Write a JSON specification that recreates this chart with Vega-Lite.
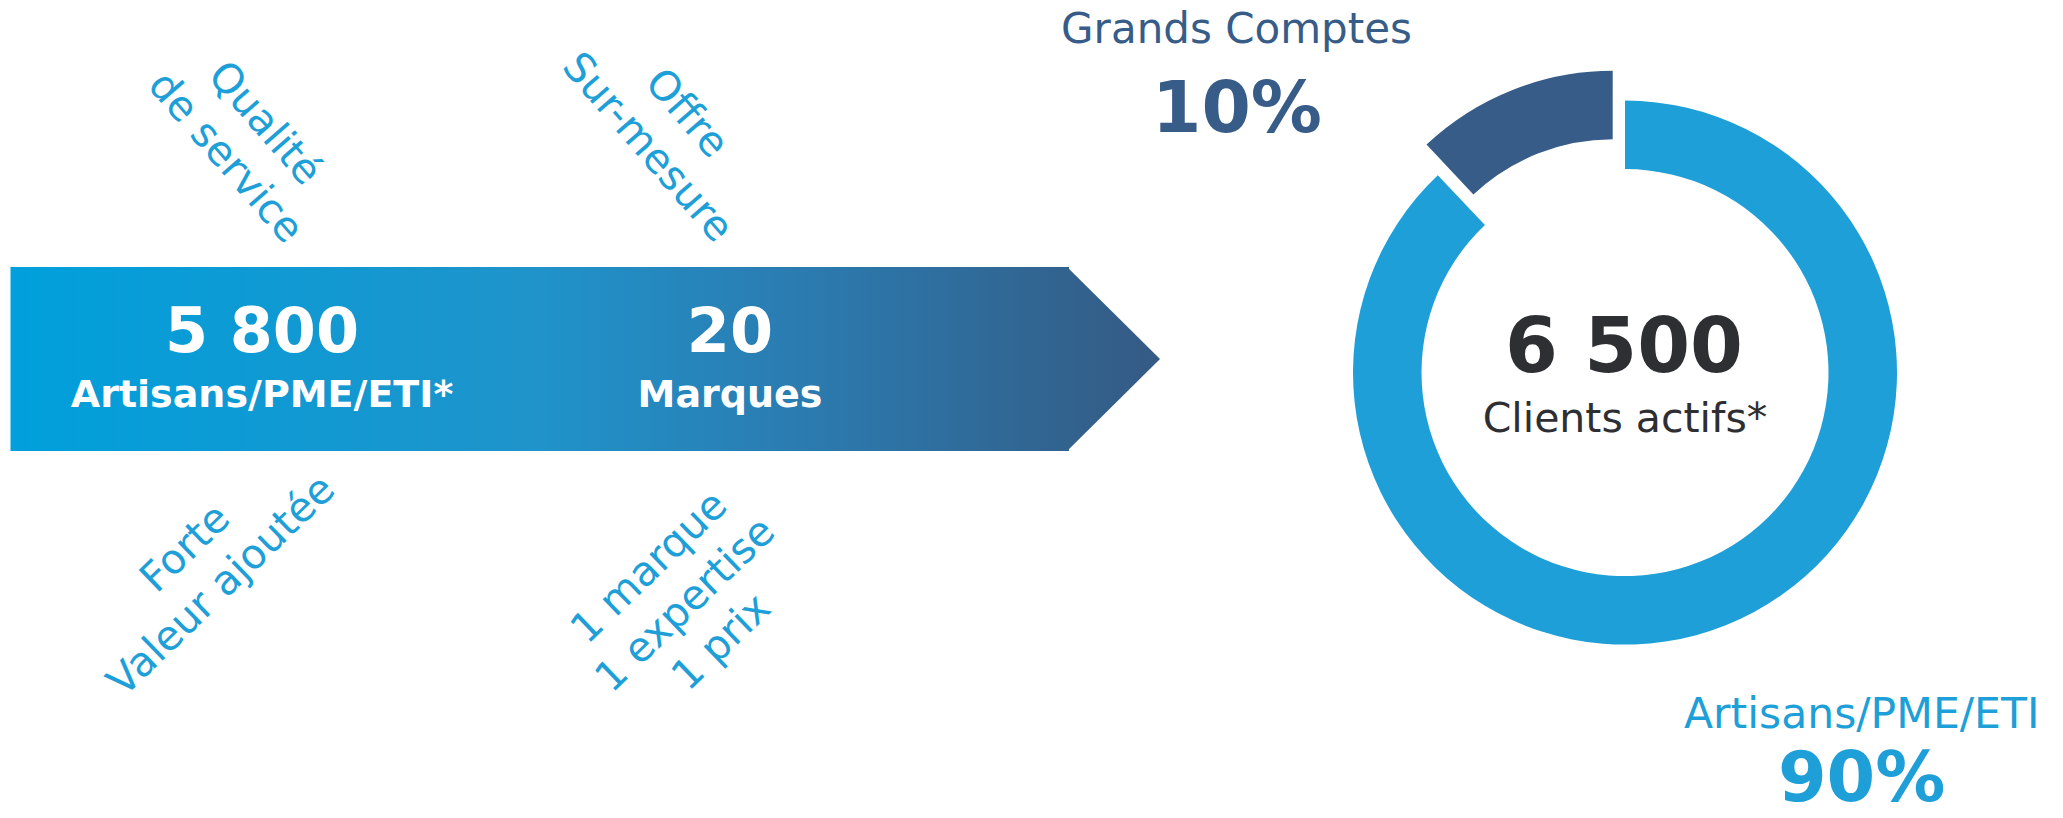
{
  "$schema": "https://vega.github.io/schema/vega-lite/v6.json",
  "width": 2063,
  "height": 818,
  "padding": 0,
  "autosize": {"type": "none"},
  "background": "white",
  "config": {
    "view": {"stroke": null},
    "axis": {"disable": true},
    "locale": {"number": {"decimal": ",", "thousands": " ", "grouping": [3], "currency": ["", " €"]}},
    "text": {"font": "DejaVu Sans"}
  },
  "resolve": {"scale": {"theta": "independent"}},
  "datasets": {
    "kpis": [
      {"metric": "Artisans/PME/ETI*", "count": 5800},
      {"metric": "Marques", "count": 20},
      {"metric": "Clients actifs*", "count": 6500}
    ],
    "segments": [
      {"segment": "Artisans/PME/ETI", "share": 0.9},
      {"segment": "Grands Comptes", "share": 0.1}
    ],
    "strengths": [
      {"id": "service", "text": "Qualité\nde service"},
      {"id": "offre", "text": "Offre\nSur-mesure"},
      {"id": "valeur", "text": "Forte\nValeur ajoutée"},
      {"id": "prix", "text": "1 marque\n1 expertise\n1 prix"}
    ]
  },
  "layer": [
    {
      "data": {"values": [{}]},
      "mark": {"type": "rect", "fill": {"gradient": "linear", "x1": 0, "y1": 0, "x2": 1, "y2": 0, "stops": [{"offset": 0, "color": "#00a0dc"}, {"offset": 0.5, "color": "#1f93ca"}, {"offset": 0.75, "color": "#2b7bb0"}, {"offset": 1, "color": "#32628e"}]}},
      "encoding": {
        "x": {"datum": 10.5, "type": "quantitative", "scale": {"domain": [0, 2063], "nice": false, "zero": false}, "axis": null},
        "x2": {"datum": 1069},
        "y": {"datum": 267, "type": "quantitative", "scale": {"domain": [0, 818], "nice": false, "zero": false, "reverse": true}, "axis": null},
        "y2": {"datum": 451}
      }
    },
    {
      "data": {"values": [{}]},
      "mark": {"type": "point", "filled": true, "opacity": 1, "strokeWidth": 0, "shape": "M-1.01,-1L0,0L-1.01,1Z", "size": 33856, "fill": {"gradient": "linear", "x1": 0, "y1": 0, "x2": 1, "y2": 0, "stops": [{"offset": 0, "color": "#32628e"}, {"offset": 1, "color": "#355a85"}]}},
      "encoding": {
        "x": {"datum": 1160, "type": "quantitative", "axis": null},
        "y": {"datum": 359, "type": "quantitative", "axis": null}
      }
    },
    {
      "data": {"name": "kpis"},
      "transform": [{"filter": "datum.metric === 'Artisans/PME/ETI*'"}],
      "mark": {"type": "text", "fontSize": 62, "fontWeight": "bold", "color": "#ffffff", "align": "center", "baseline": "alphabetic"},
      "encoding": {
        "x": {"datum": 262, "type": "quantitative", "axis": null},
        "y": {"datum": 352, "type": "quantitative", "axis": null},
        "text": {"field": "count", "type": "quantitative", "format": ",d"}
      }
    },
    {
      "data": {"name": "kpis"},
      "transform": [{"filter": "datum.metric === 'Artisans/PME/ETI*'"}],
      "mark": {"type": "text", "fontSize": 38, "fontWeight": "bold", "color": "#ffffff", "align": "center", "baseline": "alphabetic"},
      "encoding": {
        "x": {"datum": 262, "type": "quantitative", "axis": null},
        "y": {"datum": 407, "type": "quantitative", "axis": null},
        "text": {"field": "metric", "type": "nominal"}
      }
    },
    {
      "data": {"name": "kpis"},
      "transform": [{"filter": "datum.metric === 'Marques'"}],
      "mark": {"type": "text", "fontSize": 62, "fontWeight": "bold", "color": "#ffffff", "align": "center", "baseline": "alphabetic"},
      "encoding": {
        "x": {"datum": 730, "type": "quantitative", "axis": null},
        "y": {"datum": 352, "type": "quantitative", "axis": null},
        "text": {"field": "count", "type": "quantitative", "format": ",d"}
      }
    },
    {
      "data": {"name": "kpis"},
      "transform": [{"filter": "datum.metric === 'Marques'"}],
      "mark": {"type": "text", "fontSize": 38, "fontWeight": "bold", "color": "#ffffff", "align": "center", "baseline": "alphabetic"},
      "encoding": {
        "x": {"datum": 730, "type": "quantitative", "axis": null},
        "y": {"datum": 407, "type": "quantitative", "axis": null},
        "text": {"field": "metric", "type": "nominal"}
      }
    },
    {
      "data": {"name": "strengths"},
      "transform": [{"filter": "datum.id === 'service'"}],
      "mark": {"type": "text", "fontSize": 41, "color": "#1e9fd8", "align": "center", "baseline": "middle", "angle": 49, "lineBreak": "\n", "lineHeight": 52},
      "encoding": {
        "x": {"datum": 264, "type": "quantitative", "axis": null},
        "y": {"datum": 124, "type": "quantitative", "axis": null},
        "text": {"field": "text", "type": "nominal"}
      }
    },
    {
      "data": {"name": "strengths"},
      "transform": [{"filter": "datum.id === 'offre'"}],
      "mark": {"type": "text", "fontSize": 41, "color": "#1e9fd8", "align": "center", "baseline": "middle", "angle": 49, "lineBreak": "\n", "lineHeight": 52},
      "encoding": {
        "x": {"datum": 686, "type": "quantitative", "axis": null},
        "y": {"datum": 114, "type": "quantitative", "axis": null},
        "text": {"field": "text", "type": "nominal"}
      }
    },
    {
      "data": {"name": "strengths"},
      "transform": [{"filter": "datum.id === 'valeur'"}],
      "mark": {"type": "text", "fontSize": 41, "color": "#1e9fd8", "align": "center", "baseline": "middle", "angle": -44, "lineBreak": "\n", "lineHeight": 52},
      "encoding": {
        "x": {"datum": 186, "type": "quantitative", "axis": null},
        "y": {"datum": 549, "type": "quantitative", "axis": null},
        "text": {"field": "text", "type": "nominal"}
      }
    },
    {
      "data": {"name": "strengths"},
      "transform": [{"filter": "datum.id === 'prix'"}],
      "mark": {"type": "text", "fontSize": 41, "color": "#1e9fd8", "align": "center", "baseline": "middle", "angle": -44, "lineBreak": "\n", "lineHeight": 52},
      "encoding": {
        "x": {"datum": 650, "type": "quantitative", "axis": null},
        "y": {"datum": 568, "type": "quantitative", "axis": null},
        "text": {"field": "text", "type": "nominal"}
      }
    },
    {
      "data": {"name": "segments"},
      "mark": {"type": "arc", "outerRadius": 272, "innerRadius": 203.5, "strokeWidth": 0},
      "encoding": {
        "x": {"datum": 1625, "type": "quantitative", "axis": null},
        "y": {"datum": 372.6, "type": "quantitative", "axis": null},
        "theta": {"field": "share", "type": "quantitative", "stack": true, "scale": {"domain": [0, 1], "range": [0, 6.1377]}},
        "order": {"field": "share", "sort": "descending"},
        "detail": {"field": "segment"},
        "color": {"condition": {"test": "datum.segment === 'Grands Comptes'", "value": "transparent"}, "value": "#1e9fd7"}
      }
    },
    {
      "data": {"name": "segments"},
      "mark": {"type": "arc", "outerRadius": 272, "innerRadius": 203.5, "strokeWidth": 0},
      "encoding": {
        "x": {"datum": 1612.7, "type": "quantitative", "axis": null},
        "y": {"datum": 342.8, "type": "quantitative", "axis": null},
        "theta": {"field": "share", "type": "quantitative", "stack": true, "scale": {"domain": [0, 1], "range": [-1.2566, 6.2832]}},
        "order": {"field": "share", "sort": "descending"},
        "detail": {"field": "segment"},
        "color": {"condition": {"test": "datum.segment === 'Grands Comptes'", "value": "#375c88"}, "value": "transparent"}
      }
    },
    {
      "data": {"name": "kpis"},
      "transform": [{"filter": "datum.metric === 'Clients actifs*'"}],
      "mark": {"type": "text", "fontSize": 76, "fontWeight": "bold", "color": "#2d2f33", "align": "center", "baseline": "alphabetic"},
      "encoding": {
        "x": {"datum": 1624, "type": "quantitative", "axis": null},
        "y": {"datum": 371.7, "type": "quantitative", "axis": null},
        "text": {"field": "count", "type": "quantitative", "format": ",d"}
      }
    },
    {
      "data": {"name": "kpis"},
      "transform": [{"filter": "datum.metric === 'Clients actifs*'"}],
      "mark": {"type": "text", "fontSize": 41, "color": "#2d2f33", "align": "center", "baseline": "alphabetic"},
      "encoding": {
        "x": {"datum": 1625, "type": "quantitative", "axis": null},
        "y": {"datum": 431.7, "type": "quantitative", "axis": null},
        "text": {"field": "metric", "type": "nominal"}
      }
    },
    {
      "data": {"name": "segments"},
      "transform": [{"filter": "datum.segment === 'Grands Comptes'"}],
      "mark": {"type": "text", "fontSize": 42, "color": "#375c88", "align": "center", "baseline": "alphabetic"},
      "encoding": {
        "x": {"datum": 1236.5, "type": "quantitative", "axis": null},
        "y": {"datum": 43.3, "type": "quantitative", "axis": null},
        "text": {"field": "segment", "type": "nominal"}
      }
    },
    {
      "data": {"name": "segments"},
      "transform": [{"filter": "datum.segment === 'Grands Comptes'"}],
      "mark": {"type": "text", "fontSize": 71, "fontWeight": "bold", "color": "#375c88", "align": "center", "baseline": "alphabetic"},
      "encoding": {
        "x": {"datum": 1237, "type": "quantitative", "axis": null},
        "y": {"datum": 132.3, "type": "quantitative", "axis": null},
        "text": {"field": "share", "type": "quantitative", "format": ".0%"}
      }
    },
    {
      "data": {"name": "segments"},
      "transform": [{"filter": "datum.segment === 'Artisans/PME/ETI'"}],
      "mark": {"type": "text", "fontSize": 42.5, "color": "#1e9fd8", "align": "center", "baseline": "alphabetic"},
      "encoding": {
        "x": {"datum": 1861.7, "type": "quantitative", "axis": null},
        "y": {"datum": 728.3, "type": "quantitative", "axis": null},
        "text": {"field": "segment", "type": "nominal"}
      }
    },
    {
      "data": {"name": "segments"},
      "transform": [{"filter": "datum.segment === 'Artisans/PME/ETI'"}],
      "mark": {"type": "text", "fontSize": 70, "fontWeight": "bold", "color": "#1e9fd8", "align": "center", "baseline": "alphabetic"},
      "encoding": {
        "x": {"datum": 1861.7, "type": "quantitative", "axis": null},
        "y": {"datum": 801, "type": "quantitative", "axis": null},
        "text": {"field": "share", "type": "quantitative", "format": ".0%"}
      }
    }
  ]
}
